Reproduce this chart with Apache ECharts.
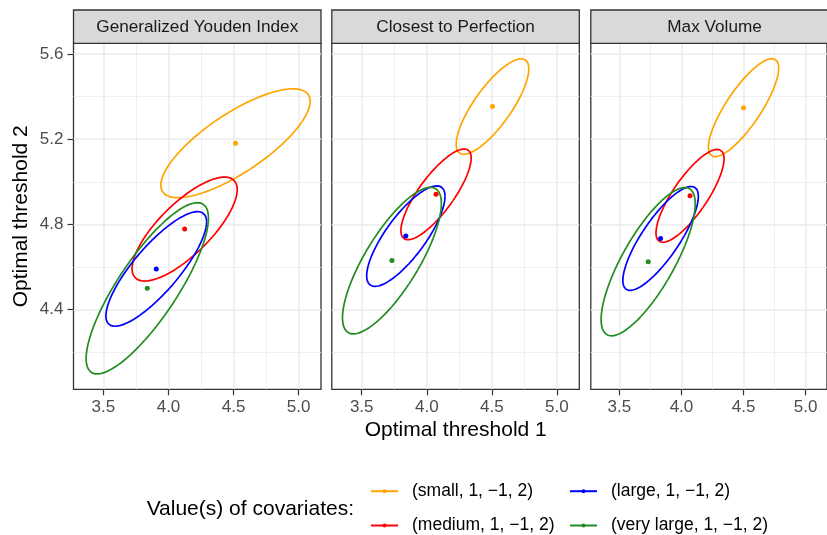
<!DOCTYPE html>
<html>
<head>
<meta charset="utf-8">
<script src="https://cdn.jsdelivr.net/npm/echarts@6/dist/echarts.min.js"></script>
<style>
html,body{margin:0;padding:0;background:#fff;}
#chart{width:827px;height:535px;}
</style>
</head>
<body>
<div id="chart"></div>
<script>
// ---- data ----
const methods = ['Generalized Youden Index', 'Closest to Perfection', 'Max Volume'];
const groups = ['(small, 1, \u22121, 2)', '(medium, 1, \u22121, 2)', '(large, 1, \u22121, 2)', '(very large, 1, \u22121, 2)'];
const groupColors = ['#FFA500', '#FF0000', '#0000FF', '#228B22'];
// estimated optimal thresholds (ellipse centres), per method, per group
const centerX = [[4.515, 4.124, 3.906, 3.837], [4.505, 4.071, 3.839, 3.732], [4.500, 4.069, 3.832, 3.732]];
const centerY = [[5.181, 4.778, 4.591, 4.500], [5.353, 4.941, 4.745, 4.630], [5.348, 4.934, 4.734, 4.625]];
// confidence ellipse half-extents and correlation
const halfX = [[0.574, 0.404, 0.387, 0.470], [0.279, 0.270, 0.301, 0.380], [0.283, 0.274, 0.304, 0.379]];
const halfY = [[0.2555, 0.244, 0.269, 0.402], [0.224, 0.213, 0.236, 0.344], [0.230, 0.218, 0.244, 0.348]];
const corr = [[0.77, 0.76, 0.82, 0.82], [0.79, 0.80, 0.79, 0.78], [0.81, 0.80, 0.81, 0.78]];
// axes
const xTicks = [3.5, 4.0, 4.5, 5.0];
const yTicks = [4.4, 4.8, 5.2, 5.6];
const xMinor = [3.75, 4.25, 4.75];
const yMinor = [4.2, 4.6, 5.0, 5.4];
const xRange = [3.27, 5.172];
const yRange = [4.026, 5.650];
const xTitle = 'Optimal threshold 1';
const yTitle = 'Optimal threshold 2';
const legendTitle = 'Value(s) of covariates:';

// ---- layout ----
const FONT = '"Liberation Sans", Arial, Helvetica, sans-serif';
const panelLeft = [73.5, 331.8, 590.8];
const panelW = 247.5;
const panelTop = 43.3;
const panelH = 346;
const stripTop = 10;

function ellipse(cx, cy, ax, ay, r) {
  const pts = [];
  const s = Math.sqrt(1 - r * r);
  const n = 160;
  for (let i = 0; i <= n; i++) {
    const t = 2 * Math.PI * i / n;
    pts.push([cx + ax * Math.cos(t), cy + ay * (r * Math.cos(t) + s * Math.sin(t))]);
  }
  return pts;
}

const grids = [], xAxes = [], yAxes = [], series = [], graphics = [];
for (let p = 0; p < methods.length; p++) {
  grids.push({left: panelLeft[p], top: panelTop, width: panelW, height: panelH,
    show: true, borderColor: '#333333', borderWidth: 1.3, backgroundColor: '#ffffff'});
  xAxes.push({
    gridIndex: p, type: 'value', min: xRange[0], max: xRange[1],
    axisLine: {show: false},
    axisTick: {show: true, length: 6, customValues: xTicks, lineStyle: {color: '#333333', width: 1.2}},
    axisLabel: {show: true, customValues: xTicks, formatter: v => Number(v).toFixed(1),
      color: '#4d4d4d', fontSize: 17, fontFamily: FONT, margin: 10},
    splitLine: {show: true, lineStyle: {color: '#ebebeb', width: 1.5}}
  });
  yAxes.push({
    gridIndex: p, type: 'value', min: yRange[0], max: yRange[1],
    axisLine: {show: false},
    axisTick: {show: p === 0, length: 6, customValues: yTicks, lineStyle: {color: '#333333', width: 1.2}},
    axisLabel: {show: p === 0, customValues: yTicks, formatter: v => Number(v).toFixed(1),
      color: '#4d4d4d', fontSize: 17, fontFamily: FONT, margin: 10},
    splitLine: {show: true, lineStyle: {color: '#ebebeb', width: 1.5}}
  });
  // minor grid lines
  series.push({
    type: 'line', xAxisIndex: p, yAxisIndex: p, data: [], z: 1, silent: true,
    markLine: {
      z: 1, silent: true, symbol: ['none', 'none'], label: {show: false}, animation: false,
      lineStyle: {color: '#ebebeb', width: 0.8, type: 'solid'},
      emphasis: {disabled: true},
      data: xMinor.map(v => ({xAxis: v})).concat(yMinor.map(v => ({yAxis: v})))
    }
  });
  for (let g = 0; g < groups.length; g++) {
    series.push({
      type: 'line', name: groups[g], xAxisIndex: p, yAxisIndex: p,
      data: ellipse(centerX[p][g], centerY[p][g], halfX[p][g], halfY[p][g], corr[p][g]),
      showSymbol: false, symbol: 'circle', symbolSize: 4, smooth: false,
      lineStyle: {color: groupColors[g], width: 1.7},
      itemStyle: {color: groupColors[g]},
      emphasis: {disabled: true}, silent: true, animation: false, z: 3
    });
  }
  for (let g = 0; g < groups.length; g++) {
    series.push({
      type: 'scatter', name: groups[g] + ' point', xAxisIndex: p, yAxisIndex: p,
      data: [[centerX[p][g], centerY[p][g]]],
      symbol: 'circle', symbolSize: 5,
      itemStyle: {color: groupColors[g], opacity: 1},
      emphasis: {disabled: true}, silent: true, animation: false, z: 4
    });
  }
  // strip
  graphics.push({
    type: 'rect', shape: {x: panelLeft[p], y: stripTop, width: panelW, height: panelTop - stripTop},
    style: {fill: '#d9d9d9', stroke: '#333333', lineWidth: 1.3}, z: 10
  });
  graphics.push({
    type: 'text', x: panelLeft[p] + panelW / 2, y: (stripTop + panelTop) / 2 + 0.5,
    style: {text: methods[p], fill: '#1a1a1a', font: '17.2px ' + FONT, align: 'center', verticalAlign: 'middle'}, z: 11
  });
}

// axis titles
graphics.push({
  type: 'text', x: 455.7, y: 430,
  style: {text: xTitle, fill: '#000000', font: '21px ' + FONT, align: 'center', verticalAlign: 'middle'}, z: 11
});
graphics.push({
  type: 'text', x: 21.5, y: 216.3, rotation: Math.PI / 2,
  style: {text: yTitle, fill: '#000000', font: '21px ' + FONT, align: 'center', verticalAlign: 'middle'}, z: 11
});
// legend title
graphics.push({
  type: 'text', x: 354, y: 509,
  style: {text: legendTitle, fill: '#000000', font: '21px ' + FONT, align: 'right', verticalAlign: 'middle'}, z: 11
});

const legendPos = [[370, 492.2], [370, 526.5], [569, 492.2], [569, 526.5]];
const legends = groups.map((name, g) => ({
  data: [name], left: legendPos[g][0], top: legendPos[g][1] - 10,
  orient: 'horizontal', padding: 0, itemWidth: 27, itemHeight: 5,
  selectedMode: false,
  textStyle: {fontSize: 17.5, fontFamily: FONT, color: '#000000', padding: [0, 0, 0, 9]}
}));

const chart = echarts.init(document.getElementById('chart'), null, {renderer: 'canvas'});
chart.setOption({
  animation: false,
  backgroundColor: '#ffffff',
  grid: grids, xAxis: xAxes, yAxis: yAxes,
  legend: legends,
  series: series,
  graphic: graphics
});
</script>
</body>
</html>
